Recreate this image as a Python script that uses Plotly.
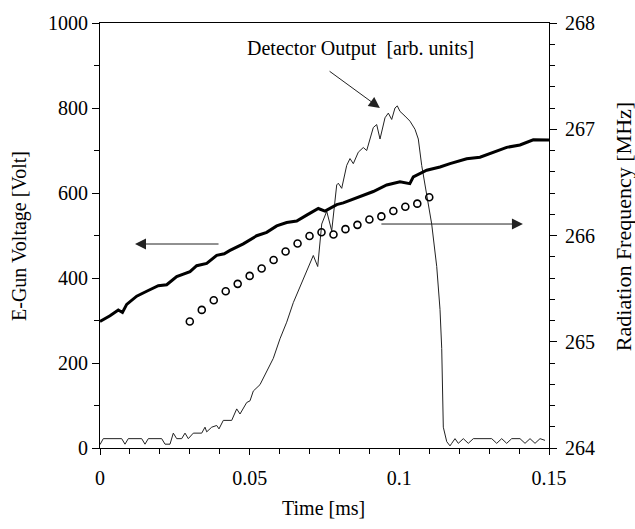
import plotly.graph_objects as go

# E-gun voltage (thick line), left axis
egun_t = [0, 0.00334, 0.00611, 0.0075, 0.00892, 0.01226, 0.0156, 0.01948, 0.02228, 0.02562,
          0.03007, 0.0323, 0.03565, 0.03899, 0.0415, 0.04343, 0.04787, 0.05235, 0.05569, 0.05903,
          0.06237, 0.06571, 0.06905, 0.07293, 0.07517, 0.07908, 0.08128, 0.08686, 0.0913, 0.09578,
          0.10022, 0.1035, 0.10467, 0.10914, 0.11359, 0.11693, 0.1225, 0.12695, 0.13139, 0.13587,
          0.14031, 0.14475, 0.15]
egun_v = [297.9, 311.1, 324.9, 319.0, 337.9, 357.3, 368.8, 381.8, 384.1, 403.5,
          415.0, 428.9, 434.2, 453.3, 457.0, 464.9, 480.4, 499.5, 507.4, 522.6,
          530.5, 534.2, 548.0, 563.5, 557.3, 572.7, 576.7, 591.9, 603.5, 618.9,
          626.6, 622.0, 638.1, 653.6, 661.2, 669.1, 680.6, 684.3, 695.8, 707.4,
          712.9, 725.2, 724.5]

# Detector output (thin line), arbitrary units on left axis scale
det_t = [0, 0.0011, 0.00725, 0.00835, 0.00945, 0.01393, 0.01503, 0.01614, 0.02061, 0.02172,
         0.02339, 0.02449, 0.02562, 0.02729, 0.0284, 0.0295, 0.03117, 0.03398, 0.03508, 0.03565,
         0.03732, 0.03899, 0.03975, 0.04119, 0.044, 0.04567, 0.04677, 0.04901, 0.05011, 0.05121,
         0.05345, 0.05569, 0.0579, 0.06013, 0.06237, 0.06458, 0.06682, 0.06905, 0.07126, 0.07273,
         0.07407, 0.07574, 0.07741, 0.07908, 0.07961, 0.08075, 0.08242, 0.08352, 0.08462, 0.08629,
         0.08796, 0.0891, 0.0902, 0.0913, 0.09244, 0.09354, 0.09521, 0.09632, 0.09745, 0.09855,
         0.09932, 0.10022, 0.10189, 0.10356, 0.10523, 0.10634, 0.10747, 0.10858, 0.10968, 0.11081,
         0.11249, 0.11359, 0.11416, 0.11449, 0.11469, 0.11583, 0.11693, 0.1175, 0.1186, 0.1197,
         0.12137, 0.12304, 0.12471, 0.13086, 0.13253, 0.1342, 0.13587, 0.13754, 0.14031, 0.14199,
         0.14366, 0.14533, 0.147, 0.14867]
det_v = [8, 22, 22, 9, 22, 22, 9, 22, 22, 9,
         9, 35, 22, 22, 35, 22, 35, 35, 49, 38,
         49, 53, 45, 65, 65, 92, 80, 107, 111, 134,
         149, 180, 211, 257, 296, 342, 380, 415, 453, 427,
         527, 557, 511, 619, 623, 611, 665, 681, 669, 696,
         707, 700, 727, 754, 761, 727, 777, 788, 773, 800,
         805, 792, 781, 769, 750, 727, 665, 619, 573, 527,
         427, 326, 234, 118, 49, 15, 5, 11, 22, 11,
         22, 11, 22, 22, 11, 22, 11, 22, 22, 11,
         22, 11, 22, 18]

# Radiation frequency (open circles), right axis
freq_t = [0.030, 0.034, 0.038, 0.042, 0.046, 0.050, 0.054, 0.058, 0.062, 0.066, 0.070,
          0.074, 0.078, 0.082, 0.086, 0.090, 0.094, 0.098, 0.102, 0.106, 0.110]
freq_f = [265.19, 265.30, 265.39, 265.475, 265.545, 265.62, 265.69, 265.77, 265.85, 265.925, 265.995,
          266.03, 266.01, 266.06, 266.10, 266.15, 266.18, 266.23, 266.27, 266.30, 266.36]

FONT = "Liberation Serif, Times New Roman, serif"

fig = go.Figure()
fig.add_trace(go.Scatter(x=det_t, y=det_v, mode="lines",
                         line=dict(color="#222222", width=1), showlegend=False))
fig.add_trace(go.Scatter(x=egun_t, y=egun_v, mode="lines",
                         line=dict(color="black", width=3), showlegend=False))
fig.add_trace(go.Scatter(x=freq_t, y=freq_f, mode="markers", yaxis="y2",
                         marker=dict(symbol="circle-open", size=7, color="black",
                                     line=dict(width=1.6, color="black")),
                         showlegend=False))

W, H = 635, 529
L, R, T, B = 100, 86, 15, 81
pw, ph = W - L - R, H - T - B

def px(x):
    return (x - L) / pw

def py(y):
    return (H - B - y) / ph

fig.update_layout(
    width=W, height=H,
    margin=dict(l=L, r=R, t=T, b=B),
    paper_bgcolor="white", plot_bgcolor="white",
    font=dict(family=FONT, size=20, color="black"),
    xaxis=dict(range=[0, 0.15], tickvals=[0, 0.05, 0.1, 0.15], ticktext=["0", "0.05", "0.1", "0.15"],
               ticks="outside", ticklen=6, tickwidth=1, tickcolor="black",
               minor=dict(dtick=0.01, tick0=0, ticks="outside", ticklen=5, tickcolor="black"),
               showline=True, linecolor="black", linewidth=1, mirror=True,
               showgrid=False, zeroline=False, ticklabelstandoff=6,
               tickfont=dict(family=FONT, size=20)),
    yaxis=dict(range=[0, 1000], dtick=200, tick0=0,
               ticks="outside", ticklen=7, tickwidth=1, tickcolor="black",
               minor=dict(dtick=100, ticks="outside", ticklen=5, tickcolor="black"),
               showline=True, linecolor="black", linewidth=1,
               showgrid=False, zeroline=False,
               tickfont=dict(family=FONT, size=20)),
    yaxis2=dict(range=[264, 268], dtick=1, tick0=264, overlaying="y", side="right",
                ticks="outside", ticklen=7, tickwidth=1, tickcolor="black",
                minor=dict(dtick=0.2, ticks="outside", ticklen=5, tickcolor="black"),
                showline=True, linecolor="black", linewidth=1,
                showgrid=False, zeroline=False, ticklabelstandoff=4,
                tickfont=dict(family=FONT, size=20)),
)

ann = []
# axis titles
ann.append(dict(text="E-Gun Voltage [Volt]", xref="paper", yref="paper", x=px(20), y=py(232),
                textangle=-90, showarrow=False, font=dict(size=20), xanchor="center", yanchor="middle"))
ann.append(dict(text="Radiation Frequency [MHz]", xref="paper", yref="paper", x=px(623), y=py(223),
                textangle=-90, showarrow=False, font=dict(size=22), xanchor="center", yanchor="middle"))
ann.append(dict(text="Time [ms]", xref="paper", yref="paper", x=px(323), y=py(509),
                showarrow=False, font=dict(size=20), xanchor="center", yanchor="middle"))
# detector label and arrow
ann.append(dict(text="Detector Output&nbsp;&nbsp;[arb. units]", x=0.0869, y=940, xref="x", yref="y",
                showarrow=False, font=dict(size=20), xanchor="center", yanchor="middle"))
arrow_style = dict(showarrow=True, arrowhead=2, arrowsize=2.2, arrowwidth=1, arrowcolor="#222222",
                   text="", xref="x", yref="y", axref="x", ayref="y")
ann.append(dict(x=0.0935, y=800, ax=0.0762, ay=889, **arrow_style))
ann.append(dict(x=0.0117, y=480, ax=0.0401, ay=480, **arrow_style))
ann.append(dict(x=0.1413, y=527, ax=0.0935, ay=527, **arrow_style))
fig.update_layout(annotations=ann)

fig.write_html("out.html")
